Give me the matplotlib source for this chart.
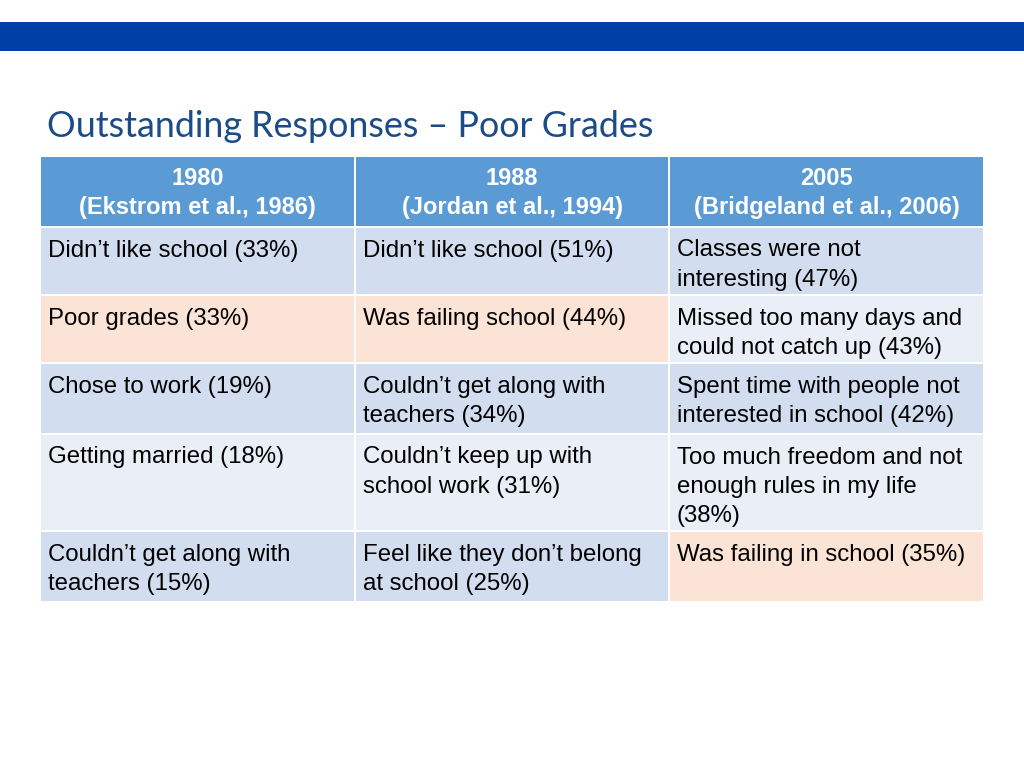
import matplotlib.pyplot as plt
from matplotlib.patches import Rectangle

# Table content
headers = ["1980\n(Ekstrom et al., 1986)",
           "1988\n(Jordan et al., 1994)",
           "2005\n(Bridgeland et al., 2006)"]
col_1980 = ["Didn\u2019t like school (33%)",
            "Poor grades (33%)",
            "Chose to work (19%)",
            "Getting married (18%)",
            "Couldn\u2019t get along with\nteachers (15%)"]
col_1988 = ["Didn\u2019t like school (51%)",
            "Was failing school (44%)",
            "Couldn\u2019t get along with\nteachers (34%)",
            "Couldn\u2019t keep up with\nschool work (31%)",
            "Feel like they don\u2019t belong\nat school (25%)"]
col_2005 = ["Classes were not\ninteresting (47%)",
            "Missed too many days and\ncould not catch up (43%)",
            "Spent time with people not\ninterested in school (42%)",
            "Too much freedom and not\nenough rules in my life\n(38%)",
            "Was failing in school (35%)"]
# cells about poor grades / failing are highlighted (row, col)
highlight = [(1, 0), (1, 1), (4, 2)]

# layout in pixels
col_edges = [40, 355, 669, 984]
row_edges = [157, 227, 295, 363, 434, 531, 602]
header_color = "#5B9BD5"
band_colors = ["#D2DEEF", "#EAEFF7"]
hl_color = "#FBE3D6"

fig = plt.figure(figsize=(10.24, 7.68), dpi=100)
ax = fig.add_axes([0, 0, 1, 1])
ax.set_xlim(0, 1024)
ax.set_ylim(768, 0)
ax.axis("off")

# top blue band
ax.add_patch(Rectangle((0, 22), 1024, 29, color="#003FA6", lw=0))

ax.text(47, 137, "Outstanding Responses \u2013 Poor Grades", fontsize=25.8,
        family="Lato", color="#1B4C87", va="baseline", ha="left")

gap = 1
cols = [col_1980, col_1988, col_2005]
for c in range(3):
    x0, x1 = col_edges[c], col_edges[c + 1]
    y0, y1 = row_edges[0], row_edges[1]
    ax.add_patch(Rectangle((x0 + gap, y0), x1 - x0 - 2 * gap, y1 - y0 - gap,
                           color=header_color, lw=0))
    ax.text((x0 + x1) / 2, (y0 + y1) / 2 + 1, headers[c], ha="center",
            va="center", fontsize=17, fontweight="bold", color="white",
            family="Liberation Sans", linespacing=1.38)
    for r, txt in enumerate(cols[c]):
        y0, y1 = row_edges[r + 1], row_edges[r + 2]
        fc = hl_color if (r, c) in highlight else band_colors[r % 2]
        ax.add_patch(Rectangle((x0 + gap, y0 + gap), x1 - x0 - 2 * gap,
                               y1 - y0 - 2 * gap, color=fc, lw=0))
        ax.text(x0 + 8, y0 + 12.5, txt, ha="left", va="top", fontsize=17.3,
                color="black", family="Liberation Sans", linespacing=1.42)

fig.savefig("out.png", dpi=100)
